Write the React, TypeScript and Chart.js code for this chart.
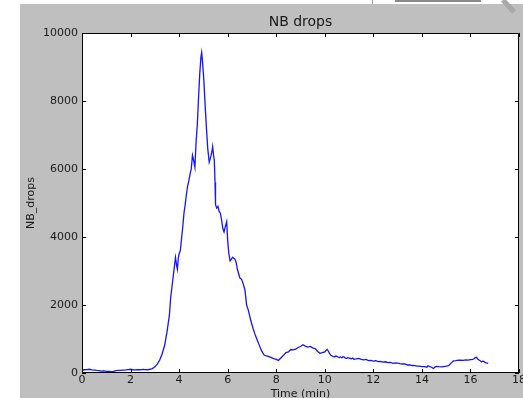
import React, { useEffect, useRef } from "react";
import { Chart, registerables } from "chart.js";
Chart.register(...registerables);

const chartTitle = "NB drops";
const xTitle = "Time (min)";
const yTitle = "NB_drops";

const timeMin = [
  0.0, 0.1, 0.2, 0.3, 0.4, 0.5, 0.6, 0.7, 0.8, 0.9, 1.0, 1.1, 1.2, 1.3, 1.4, 1.5, 1.6, 1.7, 1.8, 1.9,
  2.0, 2.1, 2.2, 2.3, 2.4, 2.5, 2.6, 2.7, 2.8, 2.9, 3.0, 3.1, 3.2, 3.3, 3.4, 3.5, 3.6, 3.65, 3.7, 3.75,
  3.8, 3.85, 3.9, 3.93, 3.97, 4.0, 4.05, 4.1, 4.15, 4.2, 4.25, 4.3, 4.35, 4.4, 4.45, 4.5, 4.55, 4.6, 4.65, 4.7,
  4.75, 4.8, 4.85, 4.9, 4.93, 4.97, 5.02, 5.07, 5.13, 5.18, 5.24, 5.3, 5.35, 5.38, 5.42, 5.45, 5.48, 5.5, 5.55, 5.6,
  5.65, 5.7, 5.75, 5.8, 5.85, 5.9, 5.96, 6.0, 6.05, 6.1, 6.15, 6.2, 6.25, 6.3, 6.35, 6.4, 6.5, 6.58, 6.65, 6.71,
  6.78, 6.85, 6.95, 7.05, 7.12, 7.2, 7.3, 7.4, 7.5, 7.6, 7.7, 7.8, 7.9, 8.0, 8.09, 8.2, 8.3, 8.4, 8.5, 8.6,
  8.7, 8.8, 8.9, 9.0, 9.1, 9.2, 9.3, 9.4, 9.5, 9.6, 9.7, 9.8, 9.9,
  10.0, 10.05, 10.1, 10.15, 10.2, 10.25, 10.3, 10.35, 10.4, 10.45, 10.5, 10.55, 10.6, 10.65, 10.7, 10.75, 10.8, 10.85, 10.9, 10.95,
  11.0, 11.1, 11.15, 11.2, 11.3, 11.4, 11.5, 11.6, 11.7, 11.8, 11.9, 12.0, 12.1, 12.2, 12.3, 12.4, 12.5, 12.6, 12.7, 12.8,
  12.9, 13.0, 13.1, 13.2, 13.3, 13.4, 13.5, 13.6, 13.7, 13.8, 13.9, 14.0, 14.1, 14.2, 14.25, 14.3, 14.4, 14.47, 14.55, 14.6,
  14.7, 14.8, 14.9, 15.0, 15.1, 15.2, 15.3, 15.4, 15.5, 15.6, 15.7, 15.8, 15.9, 16.0, 16.1, 16.15, 16.2, 16.25, 16.3, 16.35,
  16.4, 16.46, 16.5, 16.55, 16.6, 16.65, 16.73,
];

const nbDrops = [
  80, 95, 100, 110, 90, 85, 75, 70, 55, 60, 50, 45, 40, 45, 70, 80, 75, 85, 90, 100,
  110, 95, 90, 100, 95, 105, 100, 95, 110, 130, 180, 260, 380, 560, 800, 1200, 1700, 2200, 2500, 2800,
  3100, 3400, 3150, 3050, 3400, 3500, 3600, 3950, 4300, 4700, 4950, 5250, 5500, 5650, 5850, 6000, 6400, 6250, 6050, 6800,
  7300, 8100, 8800, 9300, 9430, 9100, 8600, 7900, 7150, 6600, 6200, 6350, 6500, 6660, 6400, 6250, 5600, 4950, 4850, 4900,
  4750, 4700, 4500, 4250, 4150, 4300, 4450, 3900, 3500, 3300, 3350, 3400, 3380, 3350, 3250, 3050, 2800, 2750, 2600, 2450,
  2000, 1850, 1550, 1300, 1150, 1000, 820, 650, 530, 500, 480, 450, 420, 400, 370, 450, 520, 600, 620, 690,
  680, 700, 750, 780, 830, 790, 760, 780, 740, 720, 640, 580, 600,
  620, 660, 690, 640, 570, 520, 500, 480, 470, 500, 490, 470, 455, 470, 450, 480, 465, 440, 430, 450,
  440, 420, 440, 405, 415, 430, 400, 385, 400, 365, 370, 350, 360, 335, 340, 320, 330, 305, 310, 285,
  300, 290, 275, 265, 270, 235, 240, 220, 215, 200, 205, 190, 185, 170, 210, 195, 170, 135, 180, 195,
  185, 180, 190, 200, 215, 290, 355, 365, 380, 375, 370, 385, 380, 395, 400, 420, 450, 460, 410, 380,
  360, 325, 350, 340, 310, 295, 280,
];

const xTicks = [0, 2, 4, 6, 8, 10, 12, 14, 16, 18];
const yTicks = [0, 2000, 4000, 6000, 8000, 10000];

const W = 540;
const H = 410;
const FONT = "'DejaVu Sans', sans-serif";

export default function App() {
  const ref = useRef<HTMLCanvasElement>(null);

  useEffect(() => {
    const canvas = ref.current;
    if (!canvas) return;

    const bgPlugin = {
      id: "bg",
      beforeDraw(chart: any) {
        const { ctx, chartArea: a } = chart;
        ctx.save();
        ctx.fillStyle = "#ffffff";
        ctx.fillRect(0, 0, W, H);
        ctx.fillStyle = "#bfbfbf";
        ctx.fillRect(20, 4, W - 20, H - 4);
        ctx.strokeStyle = "#9a9a9a";
        ctx.lineWidth = 1;
        ctx.beginPath();
        ctx.moveTo(372.5, 0);
        ctx.lineTo(372.5, 4);
        ctx.stroke();
        ctx.fillStyle = "#8a8a8a";
        ctx.fillRect(395, 0, 86, 2);
        ctx.strokeStyle = "#a8a8a8";
        ctx.lineWidth = 5;
        ctx.beginPath();
        ctx.moveTo(503, 0);
        ctx.lineTo(514, 12);
        ctx.stroke();
        ctx.fillStyle = "#ffffff";
        ctx.fillRect(a.left, a.top, a.right - a.left, a.bottom - a.top);
        ctx.restore();
      },
    };

    const framePlugin = {
      id: "frame",
      afterDraw(chart: any) {
        const { ctx, chartArea: a, scales } = chart;
        ctx.save();
        ctx.strokeStyle = "#000000";
        ctx.lineWidth = 1;
        ctx.strokeRect(a.left + 0.5, a.top + 0.5, a.right - a.left - 1, a.bottom - a.top - 1);
        const len = 4;
        ctx.beginPath();
        for (const v of xTicks) {
          const px = Math.round(scales.x.getPixelForValue(v)) + 0.5;
          ctx.moveTo(px, a.bottom);
          ctx.lineTo(px, a.bottom - len);
          ctx.moveTo(px, a.top);
          ctx.lineTo(px, a.top + len);
        }
        for (const v of yTicks) {
          const py = Math.round(scales.y.getPixelForValue(v)) + 0.5;
          ctx.moveTo(a.left, py);
          ctx.lineTo(a.left + len, py);
          ctx.moveTo(a.right, py);
          ctx.lineTo(a.right - len, py);
        }
        ctx.stroke();
        ctx.restore();
      },
    };

    const chart = new Chart(canvas, {
      type: "line",
      data: {
        datasets: [
          {
            label: yTitle,
            data: timeMin.map((t, i) => ({ x: t, y: nbDrops[i] })),
            borderColor: "#1414ff",
            borderWidth: 1.3,
            pointRadius: 0,
            tension: 0,
            fill: false,
          },
        ],
      },
      options: {
        responsive: false,
        animation: false,
        devicePixelRatio: 1,
        layout: { padding: { left: 20, top: 4, right: 21, bottom: 0 } },
        plugins: {
          legend: { display: false },
          tooltip: { enabled: false },
          title: {
            display: true,
            text: chartTitle,
            fullSize: false,
            color: "#1a1a1a",
            font: { family: FONT, size: 14, weight: "normal" },
            padding: { top: 9.6, bottom: 2.6 },
          },
        },
        scales: {
          x: {
            type: "linear",
            min: 0,
            max: 18,
            afterBuildTicks: (s: any) => {
              s.ticks = xTicks.map((v) => ({ value: v }));
            },
            afterFit: (s: any) => {
              s.height = 37;
            },
            grid: { display: false, drawTicks: false },
            border: { display: false },
            ticks: {
              color: "#1a1a1a",
              font: { family: FONT, size: 11 },
              padding: 1,
              maxRotation: 0,
              autoSkip: false,
              callback: (v: any) => String(v),
            },
            title: {
              display: true,
              text: xTitle,
              color: "#1a1a1a",
              font: { family: FONT, size: 11 },
              padding: { top: 0, bottom: 9.4 },
            },
          },
          y: {
            type: "linear",
            min: 0,
            max: 10000,
            afterBuildTicks: (s: any) => {
              s.ticks = yTicks.map((v) => ({ value: v }));
            },
            afterFit: (s: any) => {
              s.width = 62;
            },
            grid: { display: false, drawTicks: false },
            border: { display: false },
            ticks: {
              color: "#1a1a1a",
              font: { family: FONT, size: 11 },
              padding: 4,
              autoSkip: false,
              callback: (v: any) => String(v),
            },
            title: {
              display: true,
              text: yTitle,
              color: "#1a1a1a",
              font: { family: FONT, size: 11 },
              padding: { top: 4.7, bottom: 0 },
            },
          },
        },
      },
      plugins: [bgPlugin, framePlugin],
    });

    return () => chart.destroy();
  }, []);

  return (
    <div
      style={{
        position: "fixed",
        left: 0,
        top: 0,
        width: 523,
        height: 398,
        overflow: "hidden",
        background: "#ffffff",
      }}
    >
      <canvas ref={ref} width={W} height={H} style={{ display: "block", width: W, height: H }} />
    </div>
  );
}
